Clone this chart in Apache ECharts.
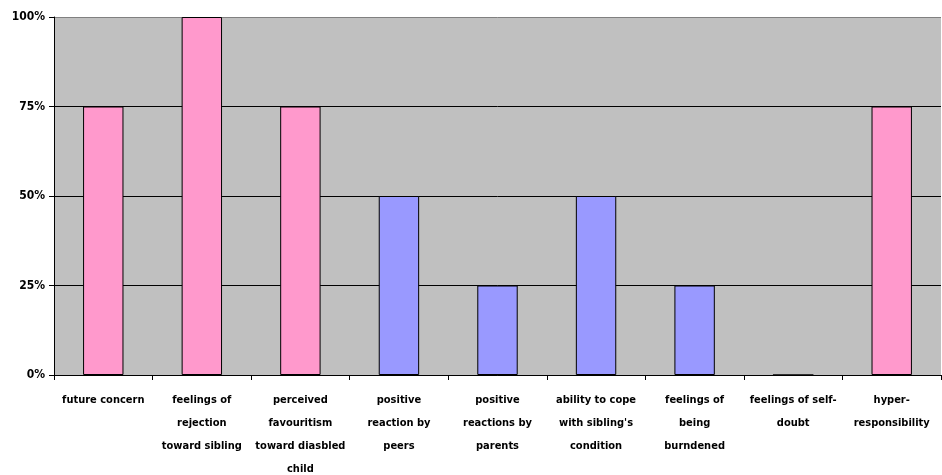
<!DOCTYPE html>
<html>
<head>
<meta charset="utf-8">
<script src="https://cdn.jsdelivr.net/npm/echarts@6/dist/echarts.min.js"></script>
<style>
  html,body{margin:0;padding:0;background:#fff;}
  #main{width:942px;height:475px;}
</style>
</head>
<body>
<div id="main"></div>
<script>
// categories as they wrap on the axis
const categories = [
  'future concern',
  'feelings of\nrejection\ntoward sibling',
  'perceived\nfavouritism\ntoward diasbled\nchild',
  'positive\nreaction by\npeers',
  'positive\nreactions by\nparents',
  'ability to cope\nwith sibling\'s\ncondition',
  'feelings of\nbeing\nburndened',
  'feelings of self-\ndoubt',
  'hyper-\nresponsibility'
];
// pink bars / blue bars (share of respondents)
const pinkValues = [0.75, 1.00, 0.75, '-', '-', '-', '-', 0, 0.75];
const blueValues = ['-', '-', '-', 0.50, 0.25, 0.50, 0.25, '-', '-'];
const yTicks = [0, 0.25, 0.5, 0.75, 1];

const chart = echarts.init(document.getElementById('main'));
const font = {fontFamily:'DejaVu Sans Condensed', fontWeight:'bold', fontSize:11, color:'#000'};

chart.setOption({
  animation:false,
  grid:{left:54, right:1, top:17, bottom:100, outerBoundsMode:'none', containLabel:false,
        show:true, backgroundColor:'#C0C0C0', borderWidth:0},
  xAxis:{
    type:'category',
    data:categories,
    axisLine:{lineStyle:{color:'#000', width:1}},
    axisTick:{show:true, length:5, lineStyle:{color:'#000'}},
    axisLabel:Object.assign({interval:0, margin:14, lineHeight:23}, font)
  },
  yAxis:{
    type:'value',
    min:yTicks[0], max:yTicks[yTicks.length-1], interval:0.25,
    axisLine:{show:true, lineStyle:{color:'#000'}},
    axisTick:{show:true, length:5, lineStyle:{color:'#000'}},
    axisLabel:Object.assign({margin:9, formatter:v => Math.round(v*100)+'%'}, font, {fontSize:12}),
    splitLine:{show:true, lineStyle:{color:['#000','#000','#000','#000','#808080'], width:1}}
  },
  series:[
    {type:'bar', data:pinkValues, barWidth:'41%', barGap:'-100%',
     itemStyle:{color:'#FF99CC', borderColor:'#000', borderWidth:1}},
    {type:'bar', data:blueValues, barWidth:'41%', barGap:'-100%',
     itemStyle:{color:'#9999FF', borderColor:'#000', borderWidth:1}}
  ]
});
</script>
</body>
</html>
